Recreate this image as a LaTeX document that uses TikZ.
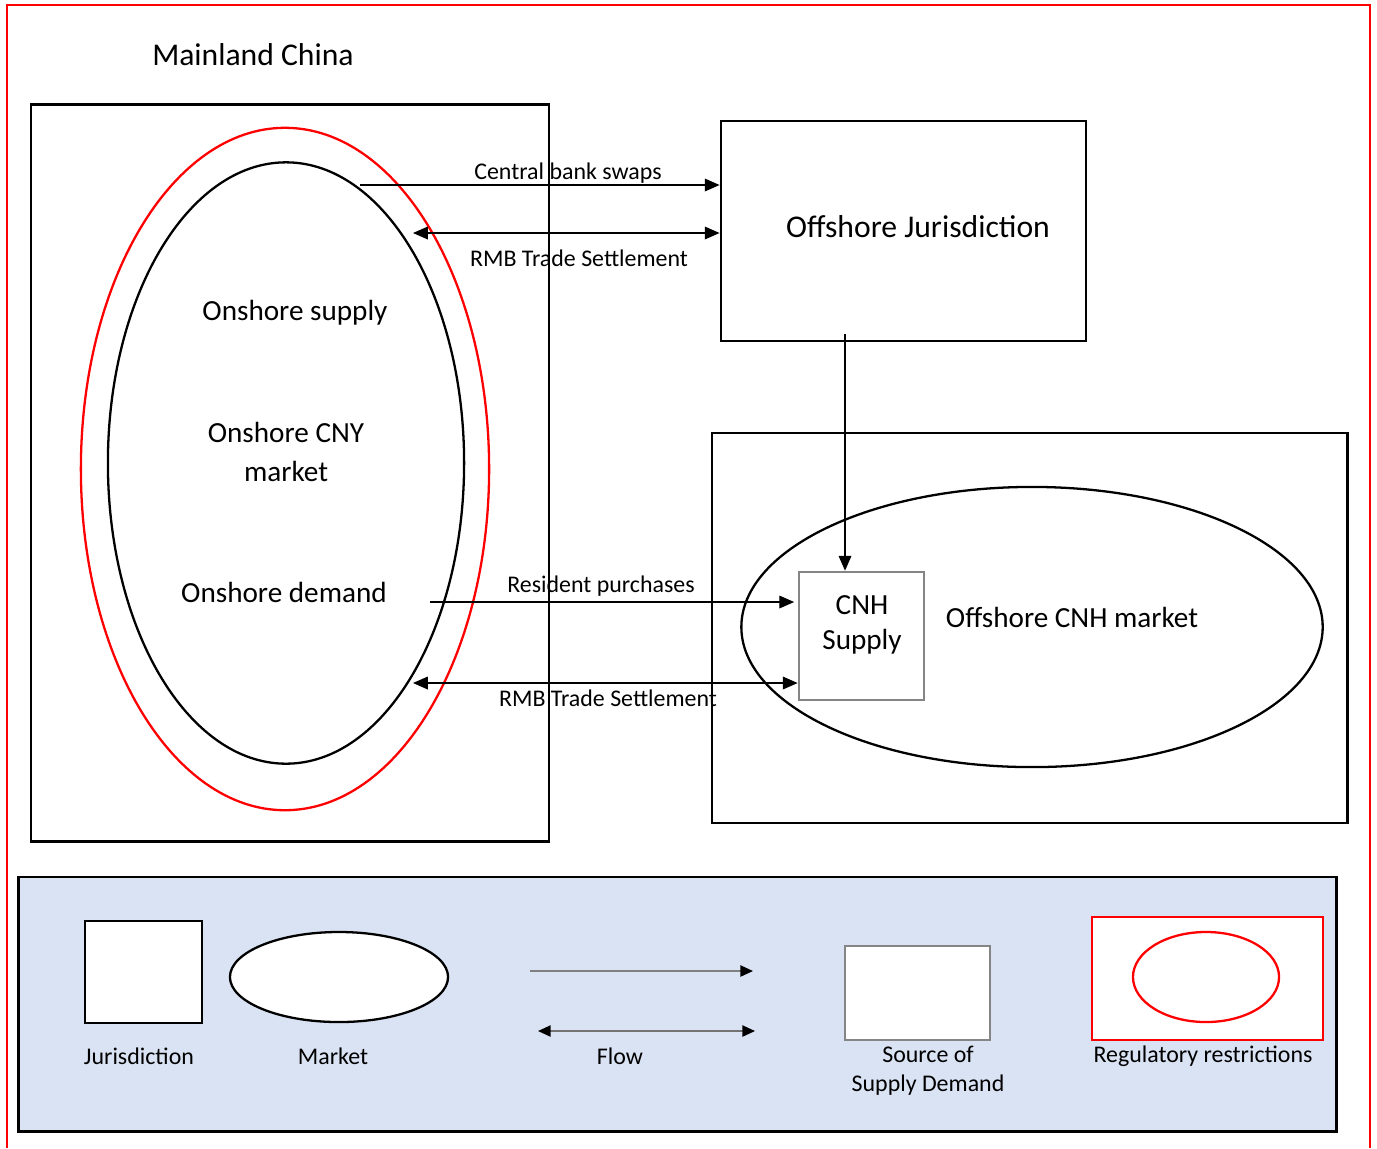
\documentclass[tikz,border=0pt]{standalone}
\usepackage{fontspec}
\setmainfont{Carlito}
\usepackage{tikz}
\usetikzlibrary{positioning,calc,shapes.geometric,arrows.meta}

\begin{document}
\begin{tikzpicture}[x=0.01cm,y=-0.01cm]
        \tikzset{
            juris/.style={draw, line width=0.75pt, inner sep=0pt},
            market/.style={draw, ellipse, line width=0.65pt, inner sep=0pt},
            regul/.style={draw=red, line width=0.65pt},
            srcbox/.style={draw=black!48, line width=0.75pt, inner sep=0pt, fill=white},
            flow/.style={line width=0.35pt, -{Triangle[length=4.2pt,width=3.6pt]}},
            flowtwo/.style={line width=0.35pt, {Triangle[length=4.2pt,width=3.6pt]}-{Triangle[length=4.2pt,width=3.6pt]}},
            keytip/.style={line width=0.45pt, -{Triangle[length=3.6pt,width=3.2pt,color=black]}},
            keytiptwo/.style={line width=0.45pt, {Triangle[length=3.6pt,width=3.2pt,color=black]}-{Triangle[length=3.6pt,width=3.2pt,color=black]}},
            bigtxt/.style={font=\fontsize{9}{11}\selectfont, align=center, inner sep=0pt},
            midtxt/.style={font=\fontsize{8.3}{11}\selectfont, align=center, inner sep=0pt},
            smalltxt/.style={font=\fontsize{6.8}{8.3}\selectfont, align=center, inner sep=0pt}
        }
        \useasboundingbox (0,0) rectangle (1377,1148);
        % outer border
        \draw[regul] (7,1148) -- (7,5) -- (1370,5) -- (1370,1148);
        \node[bigtxt] (mainland) at (253,55) {Mainland China};
        % onshore
        \node[juris, minimum width=5.18cm, minimum height=7.36cm] (onshore) at (290,473) {};
        \node[market, draw=red, minimum width=4.08cm, minimum height=6.82cm] (redell) at (285,469) {};
        \node[market, minimum width=3.56cm, minimum height=6.01cm] (cny) at (286,463) {};
        \node[midtxt] (supply) at (295,313) {Onshore supply};
        \node[midtxt, font=\fontsize{8.3}{11.2}\selectfont] (cnytxt) at (286,452) {Onshore CNY\\market};
        \node[midtxt] (demand) at (284,592) {Onshore demand};
        % offshore
        \node[juris, minimum width=3.65cm, minimum height=2.2cm] (oj) at (903.5,231) {};
        \node[bigtxt] (ojtxt) at (918,227) {Offshore Jurisdiction};
        \node[juris, minimum width=6.35cm, minimum height=3.9cm] (offshore) at (1029.5,628) {};
        \node[market, minimum width=5.81cm, minimum height=2.8cm] (cnh) at (1032,627) {};
        \node[srcbox, minimum width=1.25cm, minimum height=1.28cm] (cnhsup) at (861.5,636) {};
        \node[midtxt, font=\fontsize{8.3}{10}\selectfont] (cnhtxt) at (862,625) {CNH\\Supply};
        \node[midtxt] (cnhmkt) at (1072,617) {Offshore CNH market};
        % flows
        \coordinate (cbs) at (360,185);
        \coordinate (rmbup) at (413,233);
        \coordinate (drop) at (845,334);
        \coordinate (res) at (430,602);
        \coordinate (rmbdown) at (413,683);
        \draw[flow] (cbs) -- (cbs -| oj.west);
        \draw[flowtwo] (rmbup) -- (rmbup -| oj.west);
        \draw[flow] (drop) -- (drop |- cnhsup.north);
        \draw[flow, shorten >=1pt] (res) -- (res -| cnhsup.west);
        \draw[flowtwo] (rmbdown) -- (rmbdown -| cnhsup.west);
        \node[smalltxt] (cbstxt) at (568,173) {Central bank swaps};
        \node[smalltxt] (rmbuptxt) at (579,258) {RMB Trade Settlement};
        \node[smalltxt] (restxt) at (601,586) {Resident purchases};
        \node[smalltxt] (rmbdowntxt) at (608,698) {RMB Trade Settlement};
        % legend
        \node[draw, line width=0.8pt, fill={rgb,255:red,218;green,227;blue,243}, minimum width=13.17cm, minimum height=2.54cm, inner sep=0pt] (legend) at (677.5,1004) {};
        \node[juris, fill=white, minimum width=1.17cm, minimum height=1.02cm] (ljuris) at (143.5,972) {};
        \node[market, fill=white, minimum width=2.18cm, minimum height=0.9cm] (lmarket) at (339,977) {};
        \coordinate (lone) at (530,971);
        \coordinate (ltwo) at (538,1031);
        \draw[keytip, black!50] (lone) -- ++(223,0);
        \draw[keytiptwo, black!55] (ltwo) -- ++(217,0);
        \node[srcbox, minimum width=1.45cm, minimum height=0.94cm] (lsrc) at (917.5,993) {};
        \node[regul, fill=white, minimum width=2.31cm, minimum height=1.23cm, inner sep=0pt] (lreg) at (1207.5,978.5) {};
        \node[market, draw=red, fill=white, minimum width=1.46cm, minimum height=0.9cm] (lregell) at (1206,977) {};
        \node[smalltxt] (ljuristxt) at (139,1056) {Jurisdiction};
        \node[smalltxt] (lmarkettxt) at (333,1056) {Market};
        \node[smalltxt] (lflowtxt) at (620,1056) {Flow};
        \node[smalltxt] (lsrctxt) at (928,1071) {Source of\\Supply Demand};
        \node[smalltxt] (lregtxt) at (1203,1056) {Regulatory restrictions};
    \end{tikzpicture}
\end{document}
